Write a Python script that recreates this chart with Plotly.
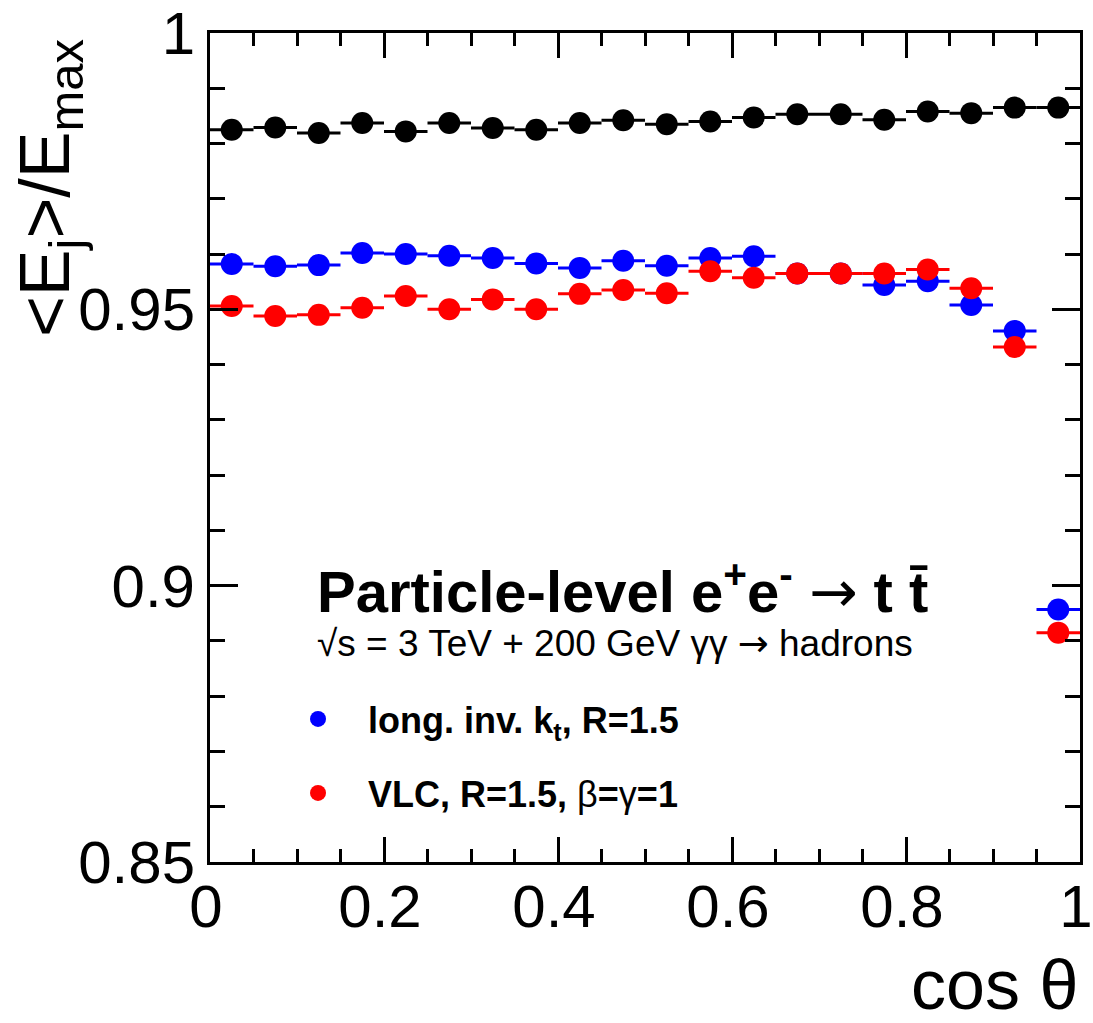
import plotly.graph_objects as go

# bin centres (cos theta), bin half width 0.025
cos_theta = [0.025, 0.075, 0.125, 0.175, 0.225, 0.275, 0.325, 0.375, 0.425, 0.475,
             0.525, 0.575, 0.625, 0.675, 0.725, 0.775, 0.825, 0.875, 0.925, 0.975]
bin_half = [0.025] * 20

black_vals = [0.9825, 0.9829, 0.9819, 0.9837, 0.9822, 0.9837, 0.9828, 0.9825, 0.9837, 0.9842,
              0.9835, 0.9840, 0.9847, 0.9853, 0.9853, 0.9843, 0.9858, 0.9855, 0.9865, 0.9865]
blue_vals = [0.9582, 0.9578, 0.9580, 0.9602, 0.9600, 0.9597, 0.9593, 0.9583, 0.9575, 0.9588,
             0.9579, 0.9593, 0.9596, 0.9565, 0.9565, 0.9544, 0.9551, 0.9508, 0.9461, 0.8957]
red_vals = [0.9506, 0.9488, 0.9490, 0.9503, 0.9524, 0.9500, 0.9518, 0.9500, 0.9528, 0.9535,
            0.9529, 0.9569, 0.9557, 0.9565, 0.9565, 0.9565, 0.9572, 0.9538, 0.9432, 0.8915]

x_tickvals = [0, 0.2, 0.4, 0.6, 0.8, 1.0]
x_ticktext = ["0", "0.2", "0.4", "0.6", "0.8", "1"]
y_tickvals = [0.85, 0.90, 0.95, 1.0]
y_ticktext = ["0.85", "0.9", "0.95", "1"]

blue_name = "<b>long. inv. k<sub>t</sub>, R=1.5</b>"
red_name = "<b>VLC, R=1.5, </b>β<b>=</b>γ<b>=1</b>"

FONT = "Liberation Sans, Arial, Helvetica, sans-serif"
ARROW = '<span style="font-family:DejaVu Sans">→</span>'

def series(y, color, name, legend, show):
    return go.Scatter(
        x=cos_theta, y=y, mode="markers", name=name,
        marker=dict(color=color, size=22, symbol="circle"),
        error_x=dict(type="data", array=bin_half, color=color, thickness=3, width=0),
        showlegend=show, legend=legend,
    )

fig = go.Figure()
fig.add_trace(series(black_vals, "#000000", "ref", "legend", False))
fig.add_trace(series(blue_vals, "#0000ff", blue_name, "legend", True))
fig.add_trace(series(red_vals, "#ff0000", red_name, "legend2", True))

axis_common = dict(
    showline=True, linewidth=3, linecolor="black", mirror="ticks",
    ticks="inside", tickwidth=3, tickcolor="black",
    showgrid=False, zeroline=False, automargin=False,
    ticklabeloverflow="allow",
    tickfont=dict(family=FONT, size=60, color="black"),
)

fig.update_xaxes(
    range=[0, 1.0000001], tickmode="array", tickvals=x_tickvals, ticktext=x_ticktext,
    ticklen=25, ticklabelstandoff=-10, ticklabelshift=-4,
    minor=dict(ticks="inside", ticklen=13, tickwidth=3, tickcolor="black",
               tickmode="linear", tick0=0, dtick=0.05, showgrid=False),
    **axis_common,
)
fig.update_yaxes(
    range=[0.85, 1.0000001], tickmode="array", tickvals=y_tickvals, ticktext=y_ticktext,
    ticklen=28, ticklabelstandoff=0,
    minor=dict(ticks="inside", ticklen=15, tickwidth=3, tickcolor="black",
               tickmode="linear", tick0=0.85, dtick=0.01, showgrid=False),
    **axis_common,
)

legend_common = dict(
    xanchor="left", yanchor="middle", bgcolor="rgba(0,0,0,0)",
    font=dict(family=FONT, size=36, color="black"), itemwidth=90,
    itemsizing="trace",
)

fig.update_layout(
    width=1093, height=1023,
    margin=dict(l=210, r=13, t=33, b=161),
    plot_bgcolor="white", paper_bgcolor="white",
    font=dict(family=FONT, color="black"),
    legend=dict(x=0.0667, y=0.1725, **legend_common),
    legend2=dict(x=0.0667, y=0.0832, **legend_common),
    annotations=[
        dict(text="<b>Particle-level e<sup>+</sup>e<sup>-</sup> </b>" + ARROW + "<b> t t\u0304</b>",
             xref="paper", yref="paper", x=0.1207, y=0.3305,
             xanchor="left", yanchor="middle", showarrow=False,
             font=dict(family=FONT, size=58, color="black")),
        dict(text="√s = 3 TeV + 200 GeV γγ " + ARROW + " hadrons",
             xref="paper", yref="paper", x=0.1207, y=0.263,
             xanchor="left", yanchor="middle", showarrow=False,
             font=dict(family=FONT, size=37, color="black")),
        dict(text="cos θ",
             xref="paper", yref="paper", x=1.0, y=-0.148,
             xanchor="right", yanchor="middle", showarrow=False,
             font=dict(family=FONT, size=70, color="black")),
        dict(text="&lt;E<sub>j</sub>&gt;/E<sub>max</sub>",
             xref="paper", yref="paper", x=-0.184, y=0.995,
             xanchor="center", yanchor="top", textangle=-90, showarrow=False,
             font=dict(family=FONT, size=70, color="black")),
    ],
)

fig.write_html("out.html")
